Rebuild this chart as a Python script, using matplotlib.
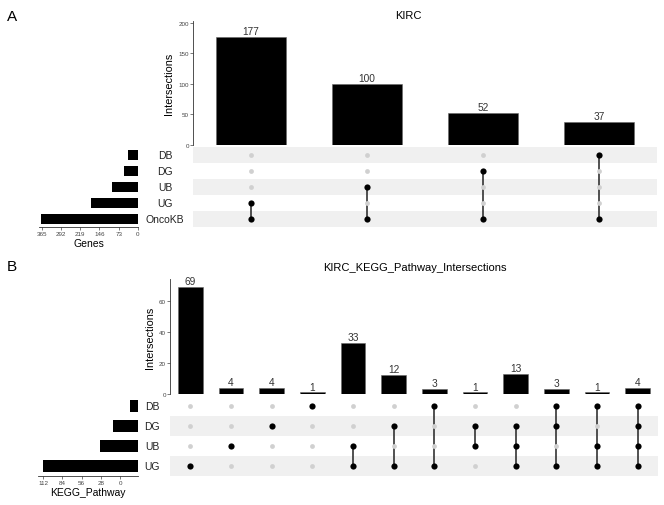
"""UpSet-style intersection figure for KIRC gene sets and KEGG pathways."""

import matplotlib

matplotlib.use("Agg")

import matplotlib.pyplot as plt
from matplotlib.transforms import blended_transform_factory

plt.rcParams["font.family"] = ["Liberation Sans", "DejaVu Sans"]

# Panel A: gene sets
SETS_A = ["DB", "DG", "UB", "UG", "OncoKB"]
SET_SIZES_A = [37, 52, 100, 177, 366]
COUNTS_A = [177, 100, 52, 37]
MEMBERS_A = [["UG", "OncoKB"], ["UB", "OncoKB"], ["DG", "OncoKB"], ["DB", "OncoKB"]]
BAR_TICKS_A = [0, 50, 100, 150, 200]
SIZE_TICKS_A = [0, 73, 146, 219, 292, 365]

# Panel B: KEGG pathways
SETS_B = ["DB", "DG", "UB", "UG"]
SET_SIZES_B = [12, 37, 56, 138]
COUNTS_B = [69, 4, 4, 1, 33, 12, 3, 1, 13, 3, 1, 4]
MEMBERS_B = [
    ["UG"], ["UB"], ["DG"], ["DB"],
    ["UB", "UG"], ["DG", "UG"], ["DB", "UG"], ["DG", "UB"],
    ["DG", "UB", "UG"], ["DB", "DG", "UG"], ["DB", "UB", "UG"],
    ["DB", "DG", "UB", "UG"],
]
BAR_TICKS_B = [0, 20, 40, 60]
SIZE_TICKS_B = [0, 28, 56, 84, 112]

W, H = 664, 506


def px_box(left, top, right, bottom):
    return [left / W, 1 - bottom / H, (right - left) / W, (bottom - top) / H]


def draw_upset(fig, sets, set_sizes, counts, members, bar_box, mat_box, size_box,
               bar_ylim, bar_ticks, size_xlim, size_ticks, size_label, name_x,
               size_tick_offset=0):
    n_rows = len(sets)
    n_cols = len(counts)
    row_y = {s: n_rows - 1 - i for i, s in enumerate(sets)}
    xs = list(range(n_cols))

    # intersection bars
    ax_bar = fig.add_axes(px_box(*bar_box))
    ax_bar.bar(xs, counts, width=0.61, color="black", edgecolor="#666666", linewidth=0.4)
    for x, c in zip(xs, counts):
        ax_bar.text(x, c + bar_ylim[1] * 0.008, str(c), ha="center", va="bottom",
                    fontsize=7.3, color="#333333")
    ax_bar.set_xlim(-0.5, n_cols - 0.5)
    ax_bar.set_ylim(*bar_ylim)
    ax_bar.set_xticks([])
    ax_bar.set_yticks(bar_ticks)
    for side in ("top", "right", "bottom"):
        ax_bar.spines[side].set_visible(False)
    ax_bar.spines["left"].set_color("#333333")
    ax_bar.spines["left"].set_linewidth(0.6)
    ax_bar.tick_params(axis="y", labelsize=4.5, length=2, width=0.5,
                       colors="#444444", pad=1)
    ax_bar.set_ylabel("Intersections", fontsize=7.8, labelpad=3)

    # membership matrix
    ax_mat = fig.add_axes(px_box(*mat_box))
    ax_mat.set_xlim(-0.5, n_cols - 0.5)
    ax_mat.set_ylim(-0.5, n_rows - 0.5)
    for i in range(0, n_rows, 2):
        ax_mat.axhspan(i - 0.5, i + 0.5, color="#F0F0F0", linewidth=0, zorder=0)
    for x in xs:
        ax_mat.scatter([x] * n_rows, list(range(n_rows)), s=12, color="#D0D0D0",
                       linewidths=0, zorder=3)
        ys = [row_y[m] for m in members[x]]
        if len(ys) > 1:
            ax_mat.plot([x, x], [min(ys), max(ys)], color="#222222", linewidth=1.1, zorder=2)
        ax_mat.scatter([x] * len(ys), ys, s=20, color="black", linewidths=0, zorder=4)
    ax_mat.axis("off")
    trans = blended_transform_factory(fig.transFigure, ax_mat.transData)
    for s in sets:
        ax_mat.text(name_x / W, row_y[s], s, transform=trans, ha="center",
                    va="center", fontsize=7.5, color="#222222")

    # set sizes
    ax_size = fig.add_axes(px_box(*size_box))
    ax_size.barh([row_y[s] for s in sets], set_sizes, height=0.62, color="black")
    ax_size.set_xlim(*size_xlim)
    ax_size.set_ylim(-0.5, n_rows - 0.5)
    ax_size.set_yticks([])
    ax_size.set_xticks([t + size_tick_offset for t in size_ticks])
    ax_size.set_xticklabels([str(t) for t in size_ticks])
    for side in ("top", "right", "left"):
        ax_size.spines[side].set_visible(False)
    ax_size.spines["bottom"].set_color("#333333")
    ax_size.spines["bottom"].set_linewidth(0.6)
    ax_size.tick_params(axis="x", labelsize=4.5, length=2, width=0.5,
                        colors="#444444", pad=1)
    ax_size.set_xlabel(size_label, fontsize=7.5, labelpad=1)


fig = plt.figure(figsize=(W / 100, H / 100), dpi=100)

fig.text(12 / W, 1 - 17 / H, "A", fontsize=11, ha="center", va="center")
fig.text(408 / W, 1 - 16 / H, "KIRC", fontsize=8, ha="center", va="center")
draw_upset(fig, SETS_A, SET_SIZES_A, COUNTS_A, MEMBERS_A,
           bar_box=(193, 22, 657, 146), mat_box=(193, 148, 657, 228),
           size_box=(39, 148, 138, 228), bar_ylim=(0, 203), bar_ticks=BAR_TICKS_A,
           size_xlim=(375, 0), size_ticks=SIZE_TICKS_A, size_label="Genes", name_x=165)

fig.text(12 / W, 1 - 267 / H, "B", fontsize=11, ha="center", va="center")
fig.text(415 / W, 1 - 268 / H, "KIRC_KEGG_Pathway_Intersections", fontsize=8,
         ha="center", va="center")
# the reference's set-size axis labels sit 26 units off the bar origin
draw_upset(fig, SETS_B, SET_SIZES_B, COUNTS_B, MEMBERS_B,
           bar_box=(170, 280, 658, 395), mat_box=(170, 397, 658, 477),
           size_box=(38, 397, 138, 477), bar_ylim=(0, 74), bar_ticks=BAR_TICKS_B,
           size_xlim=(145.5, 0), size_ticks=SIZE_TICKS_B, size_label="KEGG_Pathway",
           name_x=152, size_tick_offset=26)

fig.savefig("out.png", dpi=100)
